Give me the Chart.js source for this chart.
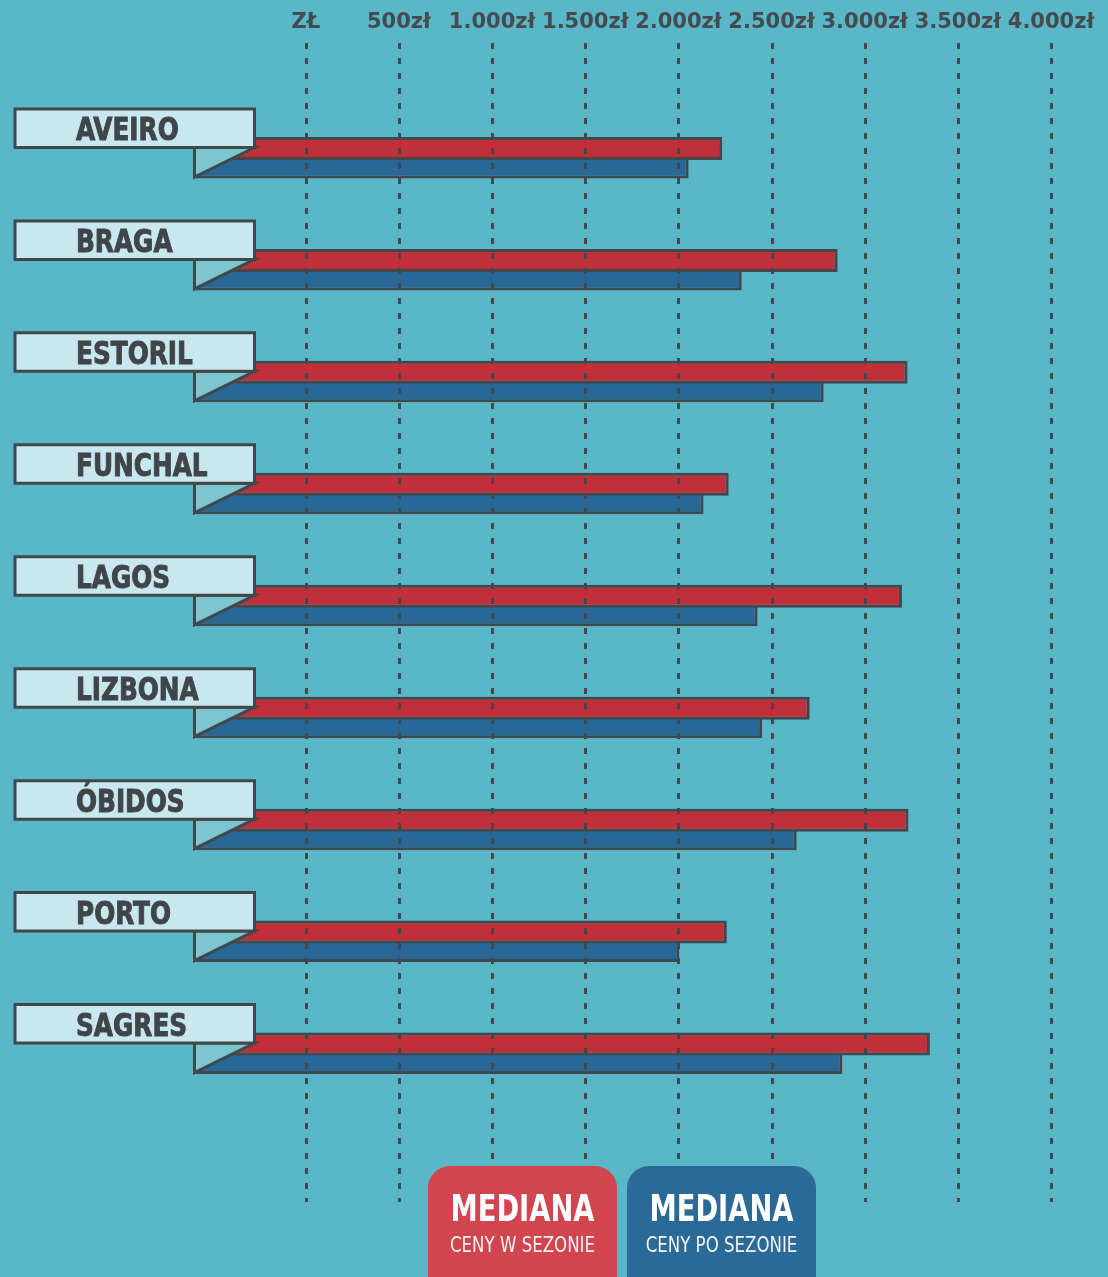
<!DOCTYPE html>
<html>
<head>
<meta charset="utf-8">
<script src="https://cdn.jsdelivr.net/npm/chart.js@4.4.1/dist/chart.umd.min.js"></script>
<style>
  html, body { margin: 0; padding: 0; background: #59b7c7; }
  #wrap { position: relative; width: 1108px; height: 1277px; overflow: hidden; }
  .key {
    position: absolute; top: 1166px; width: 189px; height: 140px;
    border-radius: 22px; color: #fff; text-align: center;
    font-family: "DejaVu Sans Condensed", "Liberation Sans Narrow", sans-serif;
  }
  .key .t { position: absolute; left: -40px; right: -40px; top: 20px; font-size: 38px; font-weight: bold; line-height: 44px; transform: scaleX(0.8); }
  .key .s { position: absolute; left: -40px; right: -40px; top: 66px; font-size: 21px; line-height: 26px; color: #f1f4f6; transform: scaleX(0.88); }
</style>
</head>
<body>
<div id="wrap">
  <canvas id="myChart"></canvas>
</div>
<script>
const categories = ['AVEIRO', 'BRAGA', 'ESTORIL', 'FUNCHAL', 'LAGOS', 'LIZBONA', 'ÓBIDOS', 'PORTO', 'SAGRES'];
const in_season = [2235, 2855, 3230, 2270, 3200, 2705, 3235, 2260, 3350];
const off_season = [2055, 2340, 2780, 2135, 2425, 2450, 2635, 2005, 2880];
const tick_values = [0, 500, 1000, 1500, 2000, 2500, 3000, 3500, 4000];
const tick_labels = ['ZŁ', '500zł', '1.000zł', '1.500zł', '2.000zł', '2.500zł', '3.000zł', '3.500zł', '4.000zł'];
const series_titles = ['MEDIANA', 'MEDIANA'];
const series_notes = ['CENY W SEZONIE', 'CENY PO SEZONIE'];
const series_colors = ['#c1303a', '#296896'];
const key_colors = ['#d2454f', '#2b6a96'];

const dark = '#41484c';
const narrow = '"DejaVu Sans Condensed", "Liberation Sans Narrow", sans-serif';

// dotted vertical lines, drawn over the bars
const dottedGrid = {
  id: 'dottedGrid',
  afterDatasetsDraw(chart) {
    const ctx = chart.ctx;
    const x = chart.scales.x;
    ctx.save();
    ctx.strokeStyle = dark;
    ctx.lineWidth = 3;
    ctx.lineCap = 'butt';
    ctx.setLineDash([6, 9]);
    tick_values.forEach(v => {
      const px = Math.round(x.getPixelForValue(v)) + 0.5;
      ctx.beginPath();
      ctx.moveTo(px, 43);
      ctx.lineTo(px, 1202);
      ctx.stroke();
    });
    ctx.restore();
  }
};

// flag shaped labels covering the start of each bar pair
const flags = {
  id: 'flags',
  afterDatasetsDraw(chart) {
    const ctx = chart.ctx;
    const y = chart.scales.y;
    ctx.save();
    ctx.lineWidth = 3;
    ctx.strokeStyle = dark;
    ctx.lineJoin = 'miter';
    categories.forEach((name, i) => {
      const cy = y.getPixelForValue(i);
      // fold
      ctx.beginPath();
      ctx.moveTo(194.5, cy - 11);
      ctx.lineTo(254.5, cy - 11);
      ctx.lineTo(194.5, cy + 18.5);
      ctx.closePath();
      ctx.fillStyle = '#7cc6d0';
      ctx.fill();
      ctx.stroke();
      // box
      ctx.beginPath();
      ctx.rect(15, cy - 49.5, 239.5, 38.5);
      ctx.fillStyle = '#c9e7ee';
      ctx.fill();
      ctx.stroke();
      // label, squeezed to a condensed width
      ctx.save();
      ctx.translate(76, cy - 18);
      ctx.scale(0.86, 1);
      ctx.fillStyle = '#3f4548';
      ctx.strokeStyle = '#3f4548';
      ctx.lineWidth = 0.9;
      ctx.font = 'bold 32px ' + narrow;
      ctx.textBaseline = 'alphabetic';
      ctx.fillText(name, 0, 0);
      ctx.strokeText(name, 0, 0);
      ctx.restore();
    });
    ctx.restore();
  }
};

const ctx = document.getElementById('myChart').getContext('2d');
const myChart = new Chart(ctx, {
  type: 'bar',
  data: {
    labels: categories,
    datasets: [{
      label: series_notes[0],
      data: in_season,
      base: -600,
      barPercentage: 1.15,
      backgroundColor: series_colors[0],
      borderColor: dark,
      borderSkipped: false,
      borderWidth: { top: 3, right: 3, bottom: 3, left: 0 }
    }, {
      label: series_notes[1],
      data: off_season,
      base: -600,
      barPercentage: 1,
      backgroundColor: series_colors[1],
      borderColor: dark,
      borderSkipped: false,
      borderWidth: { top: 0, right: 3, bottom: 3, left: 0 }
    }]
  },
  options: {
    indexAxis: 'y',
    responsive: true,
    maintainAspectRatio: false,
    animation: false,
    categoryPercentage: 40 / 112,
    layout: { padding: { left: 194, right: 57, top: 0, bottom: 167 } },
    plugins: { legend: { display: false }, tooltip: { enabled: false } },
    scales: {
      x: {
        type: 'linear',
        position: 'top',
        min: -600,
        max: 4000,
        afterBuildTicks: (scale) => {
          scale.ticks = tick_values.map(v => ({ value: v }));
        },
        afterFit: (scale) => {
          scale.height = 102.5;
          scale.paddingLeft = 0;
          scale.paddingRight = 0;
        },
        grid: { display: false, drawTicks: false },
        border: { display: false },
        ticks: {
          padding: 67,
          color: '#454a4e',
          font: { family: 'DejaVu Sans', size: 21, weight: 'bold' },
          maxRotation: 0,
          autoSkip: false,
          callback: (value) => tick_labels[tick_values.indexOf(value)]
        }
      },
      y: {
        display: false
      }
    }
  },
  plugins: [dottedGrid, flags]
});

// legend boxes under the chart
const wrap = document.getElementById('wrap');
[428, 627].forEach((left, i) => {
  const key = document.createElement('div');
  key.className = 'key';
  key.style.left = left + 'px';
  key.style.background = key_colors[i];
  key.innerHTML = `<div class="t">${series_titles[i]}</div><div class="s">${series_notes[i]}</div>`;
  wrap.appendChild(key);
});
</script>
</body>
</html>
